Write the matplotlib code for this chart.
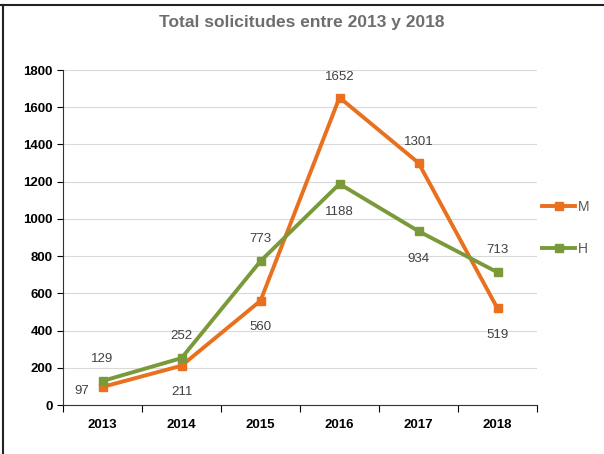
import matplotlib
matplotlib.use('Agg')
import matplotlib.pyplot as plt
from matplotlib.lines import Line2D

years = ['2013', '2014', '2015', '2016', '2017', '2018']
m_vals = [97, 211, 560, 1652, 1301, 519]
h_vals = [129, 252, 773, 1188, 934, 713]
# label placement: +1 above, -1 below
m_pos = [-1, -1, -1, 1, 1, -1]
h_pos = [1, 1, 1, -1, -1, 1]

orange = '#E8701E'
green = '#7A9A3A'

plt.rcParams['font.family'] = ['Liberation Sans', 'DejaVu Sans']

fig = plt.figure(figsize=(6.04, 4.54), dpi=100)
ax = fig.add_axes([63 / 604, 1 - 405 / 454, 474 / 604, 335 / 454])

x = list(range(len(years)))
ax.plot(x, m_vals, '-s', color=orange, lw=2.8, ms=6, label='M', zorder=3)
ax.plot(x, h_vals, '-s', color=green, lw=2.8, ms=6, label='H', zorder=3)

for i, (v, p) in enumerate(zip(m_vals, m_pos)):
    dy = 15 if p > 0 else -19
    dx = 0
    if i == 0:
        dy = -3
        dx = -15
    ax.annotate(str(v), (i, v), xytext=(dx, dy), textcoords='offset points',
                ha='center', va='center', fontsize=9.5, color='#404040')
for i, (v, p) in enumerate(zip(h_vals, h_pos)):
    dy = 16 if p > 0 else -20
    ax.annotate(str(v), (i, v), xytext=(0, dy), textcoords='offset points',
                ha='center', va='center', fontsize=9.5, color='#404040')

ax.set_xlim(-0.5, 5.5)
ax.set_ylim(0, 1800)
ax.set_yticks(range(0, 1801, 200))
ax.set_xticks([i - 0.5 for i in range(7)], minor=False)
ax.set_xticklabels([])
ax.set_xticks(x, minor=True)
ax.set_xticklabels(years, minor=True, fontweight='bold', fontsize=9.5)
ax.tick_params(axis='x', which='minor', length=0, pad=10)
ax.tick_params(axis='x', which='major', length=5, direction='out')
ax.tick_params(axis='y', length=4, direction='out', labelsize=9.5)
for lbl in ax.get_yticklabels():
    lbl.set_fontweight('bold')

ax.grid(axis='y', color='#D9D9D9', lw=0.8)
ax.set_axisbelow(True)
for s in ['top', 'right']:
    ax.spines[s].set_visible(False)
ax.spines['left'].set_color('#333333')
ax.spines['bottom'].set_color('#333333')

fig.legend(*ax.get_legend_handles_labels(), loc='upper left',
           bbox_to_anchor=(542 / 604, 1 - 200 / 454), frameon=False,
           labelspacing=2.0, handlelength=2.4, handletextpad=0.2,
           borderpad=0, borderaxespad=0, fontsize=10, labelcolor='#595959')

fig.text(0.5, 1 - 22 / 454, 'Total solicitudes entre 2013 y 2018', ha='center',
         va='center', fontsize=12.5, fontweight='bold', color='#6E6E6E')

# outer frame lines
fig.add_artist(Line2D([0, 1], [1 - 5 / 454, 1 - 5 / 454], color='#222222', lw=1.5))
fig.add_artist(Line2D([3 / 604, 3 / 604], [0, 1 - 5 / 454], color='#222222', lw=1.5))

fig.savefig('out.png', dpi=100)
